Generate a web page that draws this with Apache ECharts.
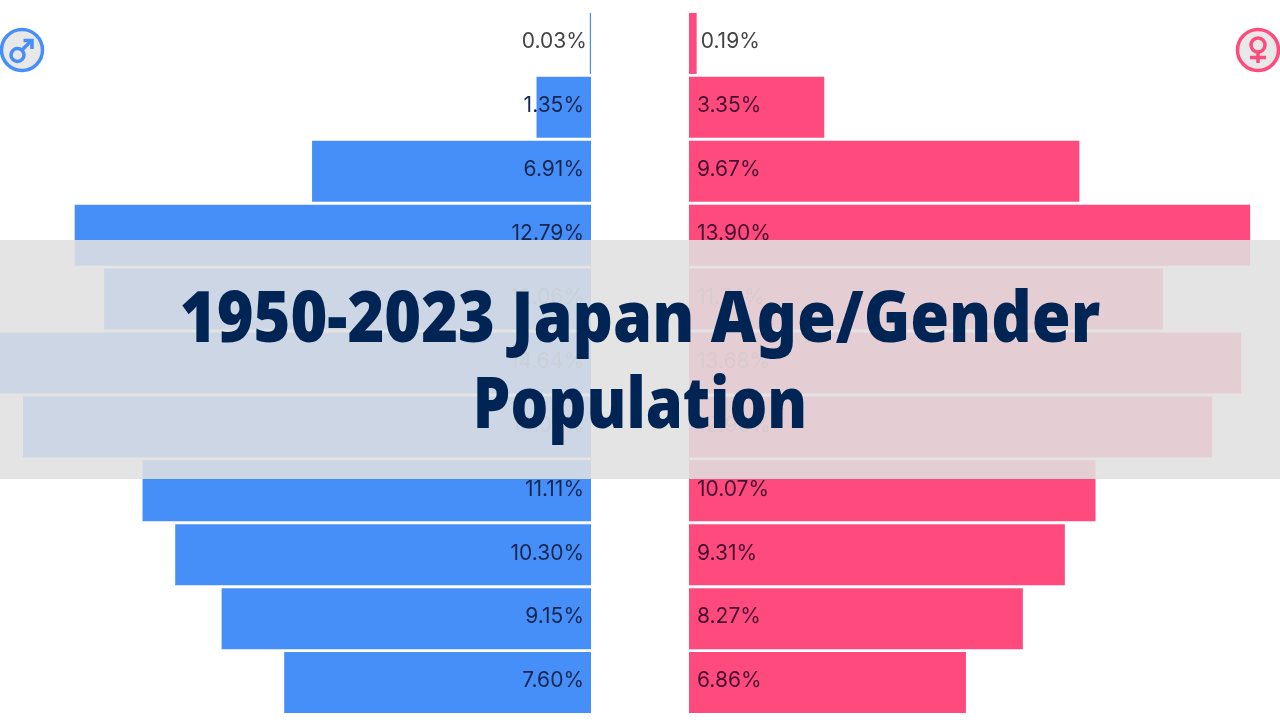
<!DOCTYPE html>
<html>
<head>
<meta charset="utf-8">
<title>1950-2023 Japan Age/Gender Population</title>
<style>
  html, body { margin: 0; padding: 0; background: #fff; }
  #chart { width: 1280px; height: 720px; }
</style>
<script src="https://cdn.jsdelivr.net/npm/echarts@6/dist/echarts.min.js"></script>
</head>
<body>
<div id="chart"></div>
<script>
// age bands, top of the pyramid first
const ageGroups = ['100+', '90-99', '80-89', '70-79', '60-69', '50-59', '40-49', '30-39', '20-29', '10-19', '0-9'];
const maleValues = [0.03, 1.35, 6.91, 12.79, 12.06, 14.64, 14.07, 11.11, 10.30, 9.15, 7.60];
const femaleValues = [0.19, 3.35, 9.67, 13.90, 11.74, 13.68, 12.96, 10.07, 9.31, 8.27, 6.86];
const titleLines = ['1950-2023 Japan Age/Gender', 'Population'];
// rows that sit fully behind the title band, their labels hardly show through
const bandRows = [4, 5, 6];

const BLUE = '#478ff8';
const PINK = '#ff4a7e';
const NAVY = '#002554';
const titleFont = '900 70px "Noto Sans"';

function barData(values, inPos, outPos, gap) {
  return values.map(function (v, i) {
    // bars too thin to hold the text get it on the outside
    if (v < 0.5) {
      return { value: v, label: { position: outPos, distance: gap - 4, color: '#444' } };
    }
    return {
      value: v,
      label: { position: inPos, distance: gap, opacity: bandRows.indexOf(i) >= 0 ? 0.5 : 1 }
    };
  });
}

function makeSeries(values, inPos, outPos, color, textColor, idx, gap) {
  return {
    type: 'bar',
    xAxisIndex: idx,
    yAxisIndex: idx,
    barWidth: 61,
    itemStyle: { color: color },
    label: {
      show: true,
      fontFamily: 'Inter, sans-serif',
      fontSize: 21,
      color: textColor,
      offset: [0, -1.5],
      formatter: function (p) { return p.value.toFixed(2) + '%'; }
    },
    data: barData(values, inPos, outPos, gap)
  };
}

const badgeStyle = function (color) {
  return { fill: '#e8e8e8', stroke: color, lineWidth: 3.5 };
};
const glyphStyle = function (color) {
  return { fill: 'none', stroke: color, lineWidth: 3.5 };
};

const chart = echarts.init(document.getElementById('chart'));
chart.setOption({
  animation: false,
  backgroundColor: '#fff',
  grid: [
    { left: 0, top: 11.5, width: 591, height: 703 },
    { left: 689, top: 11.5, width: 591, height: 703 }
  ],
  xAxis: [
    { type: 'value', gridIndex: 0, inverse: true, min: 0, max: 14.64, show: false },
    { type: 'value', gridIndex: 1, min: 0, max: 14.64, show: false }
  ],
  yAxis: [
    { type: 'category', gridIndex: 0, inverse: true, data: ageGroups, show: false },
    { type: 'category', gridIndex: 1, inverse: true, data: ageGroups, show: false }
  ],
  series: [
    makeSeries(maleValues, 'insideRight', 'left', BLUE, '#16264f', 0, 7),
    makeSeries(femaleValues, 'insideLeft', 'right', PINK, '#45102f', 1, 8)
  ],
  graphic: [
    // male badge
    { type: 'circle', z: 20, shape: { cx: 22, cy: 50, r: 20.5 }, style: badgeStyle(BLUE) },
    { type: 'circle', z: 21, shape: { cx: 17.5, cy: 55, r: 6.5 }, style: glyphStyle(BLUE) },
    { type: 'polyline', z: 21, shape: { points: [[22, 50], [31, 41]] }, style: glyphStyle(BLUE) },
    { type: 'polyline', z: 21, shape: { points: [[23.5, 40.5], [32, 40.5], [32, 49]] }, style: glyphStyle(BLUE) },
    // female badge
    { type: 'circle', z: 20, shape: { cx: 1258, cy: 50, r: 20.5 }, style: badgeStyle(PINK) },
    { type: 'circle', z: 21, shape: { cx: 1258, cy: 45, r: 7 }, style: glyphStyle(PINK) },
    { type: 'polyline', z: 21, shape: { points: [[1258, 52], [1258, 63]] }, style: glyphStyle(PINK) },
    { type: 'polyline', z: 21, shape: { points: [[1250, 57.5], [1266, 57.5]] }, style: glyphStyle(PINK) },
    // title band
    { type: 'rect', z: 50, shape: { x: 0, y: 240, width: 1280, height: 239 }, style: { fill: 'rgba(224,224,224,0.88)' } },
    { type: 'text', z: 51, x: 640, y: 322, scaleX: 0.899, style: { text: titleLines[0], fill: NAVY, font: titleFont, textAlign: 'center', textVerticalAlign: 'middle' } },
    { type: 'text', z: 51, x: 640, y: 408, scaleX: 0.85, style: { text: titleLines[1], fill: NAVY, font: titleFont, textAlign: 'center', textVerticalAlign: 'middle' } }
  ]
});
</script>
</body>
</html>
